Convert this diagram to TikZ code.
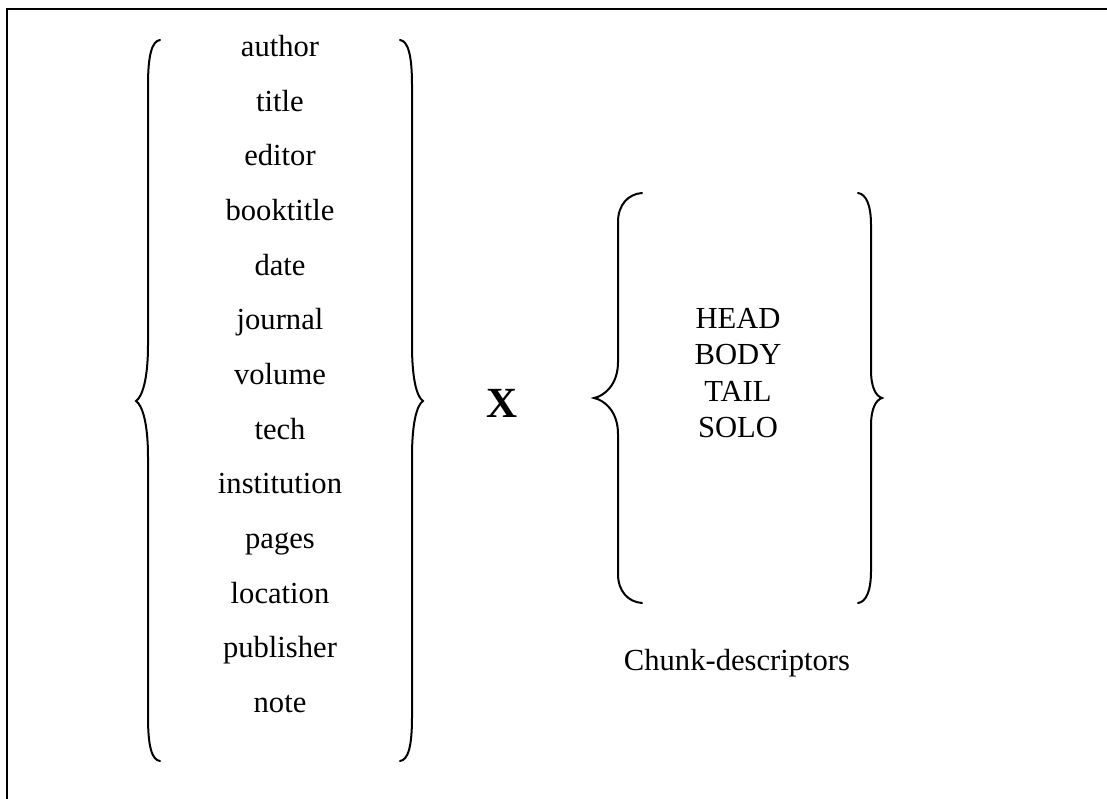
\documentclass[tikz,border=0pt]{standalone}
\usepackage{fontspec}
\setmainfont{Liberation Serif}
\begin{document}
\begin{tikzpicture}[x=0.5pt,y=-0.5pt,
  item/.style={inner sep=0pt,text height=0.68em,text depth=0.22em,
    font=\fontsize{15.3}{18}\selectfont},
  brace/.style={line width=1pt,line cap=round},
  frame/.style={line width=1.1pt}]
\useasboundingbox (0,0) rectangle (1107,798);
% frame along the top and left edges
\draw[frame] (7,820) -- (7,9) -- (1120,9);

% field names
\foreach \w [count=\i from 0] in {author,title,editor,booktitle,date,journal,volume,tech,institution,pages,location,publisher,note}
  \node[item] (f\i) at (280,{52+54.67*\i}) {\w};

% braces round the field names
\draw[brace] (160,40) .. controls (152,41) and (148,55) .. (148,85)
  -- (148,345) .. controls (148,380) and (142,397) .. (136,401)
  .. controls (142,405) and (148,422) .. (148,457)
  -- (148,717) .. controls (148,747) and (152,760) .. (160,761);
\draw[brace] (400,40) .. controls (408,41) and (412,55) .. (412,85)
  -- (412,345) .. controls (412,380) and (417,397) .. (423,401)
  .. controls (417,405) and (412,422) .. (412,457)
  -- (412,717) .. controls (412,747) and (408,760) .. (400,761);

% product sign
\node[inner sep=0pt,font=\fontsize{21.5}{24}\selectfont\bfseries] (x) at (502,403) {X};

% chunk descriptors
\foreach \w [count=\i from 0] in {HEAD,BODY,TAIL,SOLO}
  \node[item] (c\i) at (738,{324+36.3*\i}) {\w};

\draw[brace] (642,193) .. controls (628,194) and (618,205) .. (618,222)
  -- (618,362) .. controls (618,385) and (604,396) .. (594,398)
  .. controls (604,400) and (618,411) .. (618,434)
  -- (618,574) .. controls (618,591) and (628,602) .. (642,603);
\draw[brace] (858,193) .. controls (866,194) and (871,205) .. (871,225)
  -- (871,370) .. controls (871,388) and (876,396) .. (882,398)
  .. controls (876,400) and (871,408) .. (871,426)
  -- (871,571) .. controls (871,591) and (866,602) .. (858,603);

\node[item] (lbl) at (737,666) {Chunk-descriptors};
\end{tikzpicture}
\end{document}
